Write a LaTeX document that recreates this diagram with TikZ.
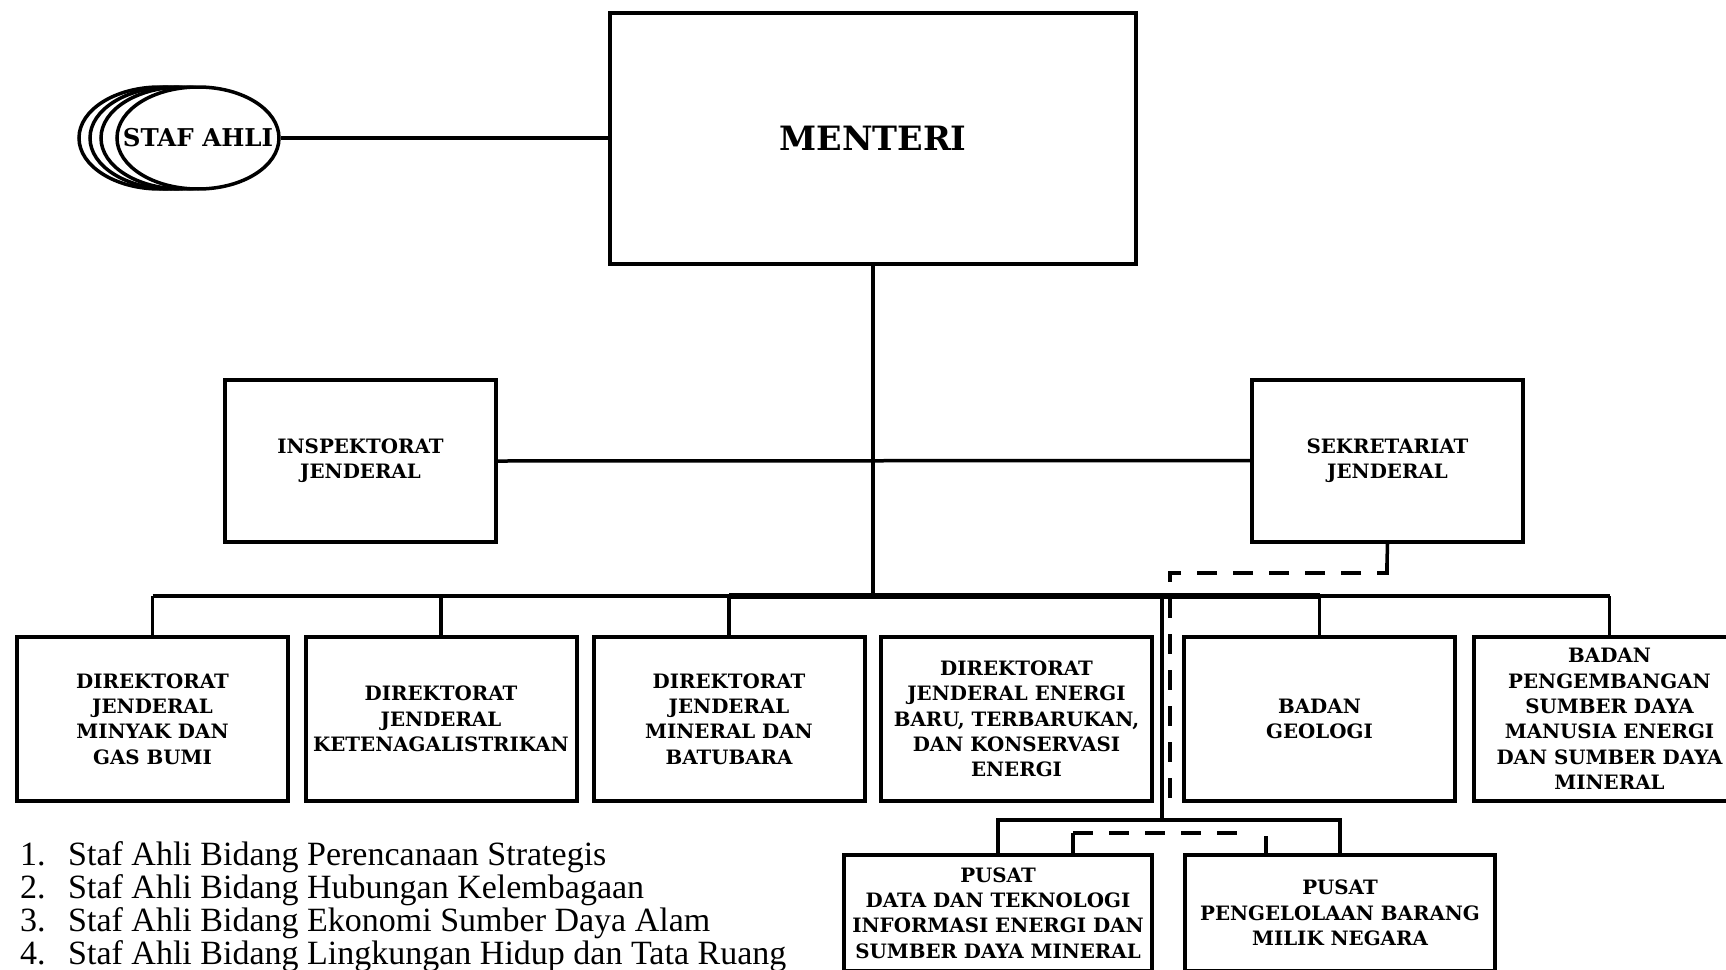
\documentclass[tikz,border=0pt]{standalone}
\usepackage{fontspec}
\setmainfont{DejaVu Serif}
\newfontfamily\listfont{Liberation Serif}
\usetikzlibrary{shapes,positioning,calc}

\begin{document}
\begin{tikzpicture}[x=1pt,y=-1pt,
    box/.style={draw,line width=4pt,rectangle,align=center,inner sep=0pt,
      font=\bfseries\fontsize{19.8}{25.3}\selectfont},
    unit/.style={box,minimum width=271pt,minimum height=164pt},
    link/.style={line width=3.5pt},
    dashlink/.style={line width=4pt,dash pattern=on 20pt off 16pt},
    listitem/.style={anchor=base west,inner sep=0pt,font=\listfont\fontsize{34}{36}\selectfont}]
  \clip (0,0) rectangle (1726,969);
  \fill[white] (0,0) rectangle (1726,969);

  % top
  \node[box,minimum width=526pt,minimum height=251pt,
    font=\bfseries\fontsize{33.5}{40}\selectfont] (menteri) at (873,138.5) {MENTERI};
  \foreach \dx in {-38,-27,-16} {
    \draw[link,fill=white] (198+\dx,138) ellipse (81 and 51);
  }
  \node[ellipse,draw,link,fill=white,minimum width=162pt,minimum height=102pt,inner sep=0pt,
    font=\bfseries\fontsize{24.5}{26}\selectfont] (staf) at (198,138) {\makebox[0pt]{STAF AHLI}};
  \draw[link] (staf.east) -- (staf.east -| menteri.west);

  \node[unit,minimum height=162pt] (irjen) at (360.5,461) {INSPEKTORAT\\JENDERAL};
  \node[unit,minimum height=162pt] (setjen) at (1387.5,460.5) {SEKRETARIAT\\JENDERAL};
  \draw[link] (irjen.east) -- (setjen.west);

  % eselon I
  \coordinate (bus) at (0,596);
  \foreach \n/\x/\t in {migas/152.5/{DIREKTORAT\\JENDERAL\\MINYAK DAN\\GAS BUMI},
      gatrik/441/{DIREKTORAT\\JENDERAL\\KETENAGALISTRIKAN},
      minerba/729/{DIREKTORAT\\JENDERAL\\MINERAL DAN\\BATUBARA},
      geologi/1319.5/{BADAN\\GEOLOGI},
      bpsdm/1609.5/{BADAN\\PENGEMBANGAN\\SUMBER DAYA\\MANUSIA ENERGI\\DAN SUMBER DAYA\\MINERAL}} {
    \node[unit] (\n) at (\x,719) {\t};
    \draw[link] (\n.north) -- (\n.north |- bus);
  }
  \node[unit] (ebtke) at (1016.5,719)
    {DIREKTORAT\\JENDERAL ENERGI\\BARU, TERBARUKAN,\\DAN KONSERVASI\\ENERGI};
  \draw[link] (migas.north |- bus) -- (bpsdm.north |- bus);
  \draw[line width=5.5pt] (minerba.north |- bus) -- (geologi.north |- bus);
  \draw[link] (menteri.south) -- (menteri.south |- bus);

  % pusat
  \node[box,minimum width=308pt,minimum height=116pt] (pdtsi) at (998,913)
    {PUSAT\\DATA DAN TEKNOLOGI\\INFORMASI ENERGI DAN\\SUMBER DAYA MINERAL};
  \node[box,minimum width=310pt,minimum height=116pt] (pbmn) at (1340,913)
    {PUSAT\\PENGELOLAAN BARANG\\MILIK NEGARA};
  \coordinate (split) at (1162,820);
  \draw[link] (split |- bus) -- (split);
  \draw[link] (pdtsi.north) -- (pdtsi.north |- split) -- (pbmn.north |- split) -- (pbmn.north);

  % garis koordinasi setjen
  \coordinate (stub) at (1387,563);
  \coordinate (dtop) at (1170,573);
  \coordinate (dbot) at (1170,813);
  \coordinate (tickL) at (1073,833);
  \coordinate (tickR) at (1266,836);
  \draw[link] (setjen.south) -- (stub);
  \draw[dashlink] (stub) |- (dtop) -- (dbot);
  \draw[dashlink] (tickL) -- (1245,833);
  \draw[link] (tickL) -- (tickL |- pdtsi.north);
  \draw[link] (tickR) -- (tickR |- pbmn.north);

  % daftar staf ahli
  \foreach \i/\y/\t in {1/865/Staf Ahli Bidang Perencanaan Strategis,
      2/898/Staf Ahli Bidang Hubungan Kelembagaan,
      3/931/Staf Ahli Bidang Ekonomi Sumber Daya Alam,
      4/964/Staf Ahli Bidang Lingkungan Hidup dan Tata Ruang} {
    \node[listitem] (num\i) at (20,\y) {\i.};
    \node[listitem] (item\i) at (68,\y) {\t};
  }
\end{tikzpicture}
\end{document}
